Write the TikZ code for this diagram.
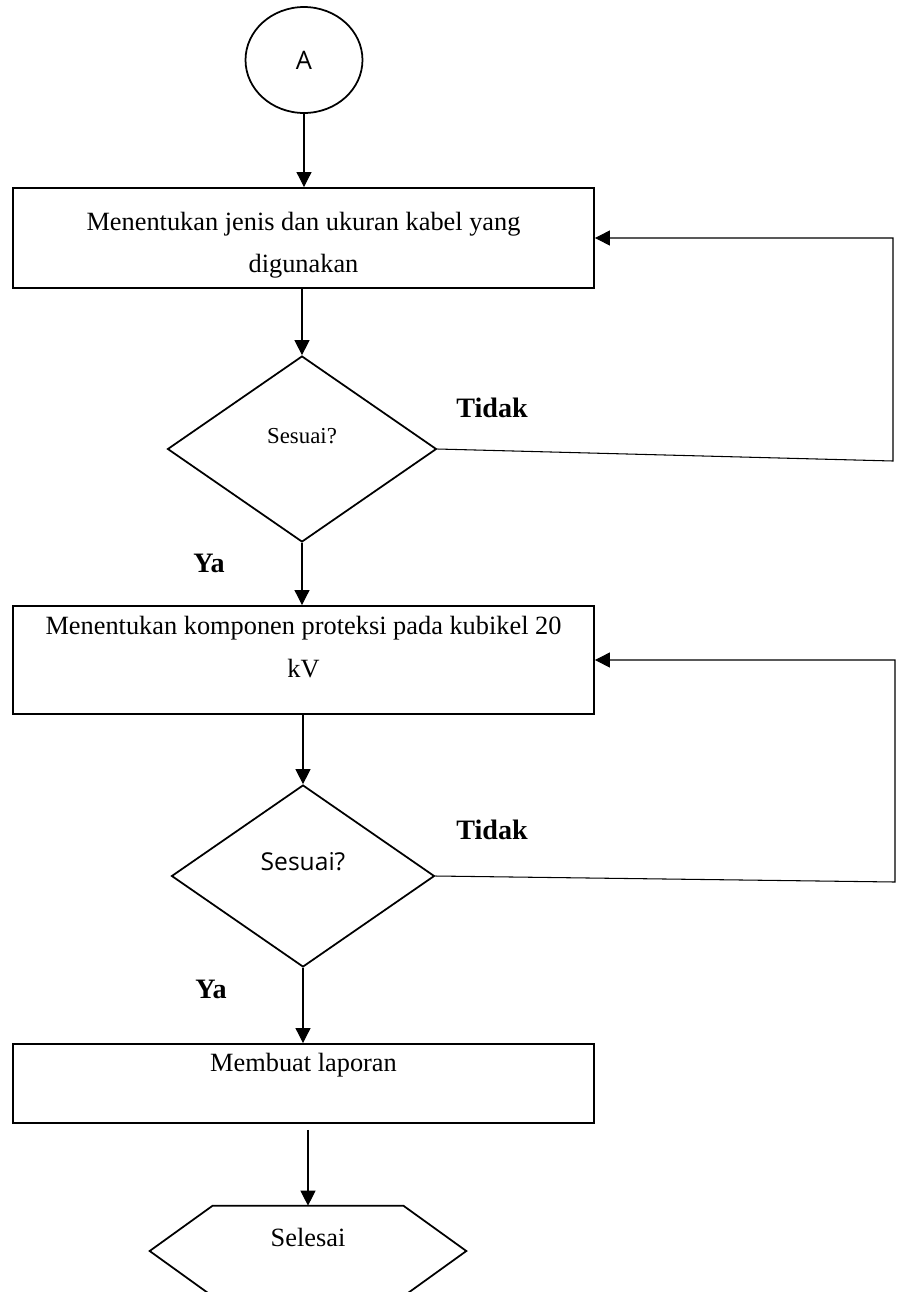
\documentclass[tikz,border=0pt]{standalone}
\usepackage{fontspec}
\setmainfont{Liberation Serif}
\setsansfont{Open Sans}
\usetikzlibrary{arrows.meta,positioning,shapes.geometric,calc}

\begin{document}
\begin{tikzpicture}[
x=0.02cm,
y=-0.02cm,
every node/.style={font=\fontsize{15}{24}\selectfont},
process/.style={rectangle,draw,line width=1.1pt,align=center,inner sep=2pt,minimum width=11.62cm},
decision/.style={diamond,draw,line width=1pt,align=center,inner sep=0pt},
connector/.style={ellipse,draw,line width=1pt,inner sep=0pt,minimum width=2.34cm,minimum height=2.12cm,font=\sffamily\fontsize{14.5}{16}\selectfont},
terminal/.style={rectangle,inner sep=0pt,minimum width=6.32cm,minimum height=1.8cm,text depth=0.56cm},
arr/.style={-{Triangle[length=3mm,width=3mm]},line width=0.6pt},
lbl/.style={font=\bfseries\fontsize{16}{18}\selectfont,inner sep=0pt}
]
\useasboundingbox (0,0) rectangle (897,1292);

\node[connector] (mulaiA) at (304,60) {A};
\node[process,minimum height=2cm,text height=1.48cm,text depth=0.1cm] (jenis) at (303.5,238) {Menentukan jenis dan ukuran kabel yang\\digunakan};
\node[decision,minimum width=5.38cm,minimum height=3.72cm,text depth=0.52cm,font=\fontsize{13}{15}\selectfont] (sesuai1) at (302,449) {Sesuai?};
\node[process,minimum height=2.16cm,text height=0.8cm,text depth=0.12cm] (proteksi) at (303.5,660) {Menentukan komponen proteksi pada kubikel 20\\kV};
\node[decision,minimum width=5.26cm,minimum height=3.64cm,text depth=0.6cm,font=\sffamily\fontsize{14}{16}\selectfont] (sesuai2) at (303,876) {Sesuai?};
\node[process,minimum height=1.58cm] (laporan) at (303.5,1083.5) {Membuat laporan\\\mbox{}};
\node[terminal] (selesai) at (308,1251) {Selesai};

\node[lbl] (tidak1) at (492,408) {Tidak};
\node[lbl] (ya1) at (209,563) {Ya};
\node[lbl] (tidak2) at (492,830) {Tidak};
\node[lbl] (ya2) at (211,989) {Ya};

\coordinate (balik1) at (893,461);
\coordinate (balik2) at (895,882);

% hexagon round Selesai
\draw[line width=1pt] ([xshift=1.26cm]selesai.north west) -- ([xshift=-1.26cm]selesai.north east) -- (selesai.east)
  -- ([xshift=-1.26cm]selesai.south east) -- ([xshift=1.26cm]selesai.south west) -- (selesai.west) -- cycle;

\draw[arr] (mulaiA) -- (mulaiA |- jenis.north);
\draw[arr] (sesuai1.north |- jenis.south) -- (sesuai1.north);
\draw[arr] (sesuai1.east) -- (balik1) |- (jenis.east);
\draw[arr] (sesuai1.south) -- (sesuai1.south |- proteksi.north);
\draw[arr] (sesuai2.north |- proteksi.south) -- (sesuai2.north);
\draw[arr] (sesuai2.east) -- (balik2) |- (proteksi.east);
\draw[arr] (sesuai2.south) -- (sesuai2.south |- laporan.north);
\draw[arr,shorten <=3.4pt] (selesai.north |- laporan.south) -- (selesai.north);
\end{tikzpicture}
\end{document}
